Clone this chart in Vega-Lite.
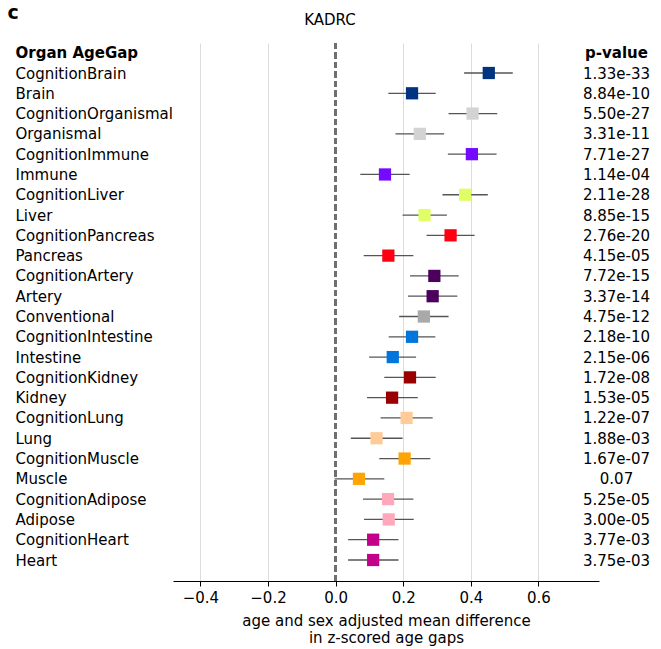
{
  "$schema": "https://vega.github.io/schema/vega-lite/v6.json",
  "width": 426,
  "height": 538,
  "autosize": {"type": "none"},
  "padding": {"left": 173, "top": 43, "right": 62, "bottom": 68},
  "config": {
    "font": "DejaVu Sans",
    "view": {"stroke": null},
    "axis": {"labelColor": "black", "titleColor": "black", "labelFontSize": 15, "titleFontSize": 15}
  },
  "title": {"text": "KADRC", "fontSize": 15, "fontWeight": "normal", "color": "black", "anchor": "middle", "frame": "group", "dx": -56, "offset": -25},
  "data": {
    "values": [
      {"label": "CognitionBrain", "organ": "Brain", "est": 0.453, "lo": 0.380, "hi": 0.524, "p": "1.33e-33"},
      {"label": "Brain", "organ": "Brain", "est": 0.226, "lo": 0.156, "hi": 0.296, "p": "8.84e-10"},
      {"label": "CognitionOrganismal", "organ": "Organismal", "est": 0.405, "lo": 0.334, "hi": 0.478, "p": "5.50e-27"},
      {"label": "Organismal", "organ": "Organismal", "est": 0.249, "lo": 0.177, "hi": 0.321, "p": "3.31e-11"},
      {"label": "CognitionImmune", "organ": "Immune", "est": 0.403, "lo": 0.332, "hi": 0.476, "p": "7.71e-27"},
      {"label": "Immune", "organ": "Immune", "est": 0.146, "lo": 0.073, "hi": 0.219, "p": "1.14e-04"},
      {"label": "CognitionLiver", "organ": "Liver", "est": 0.383, "lo": 0.316, "hi": 0.450, "p": "2.11e-28"},
      {"label": "Liver", "organ": "Liver", "est": 0.263, "lo": 0.198, "hi": 0.329, "p": "8.85e-15"},
      {"label": "CognitionPancreas", "organ": "Pancreas", "est": 0.340, "lo": 0.269, "hi": 0.411, "p": "2.76e-20"},
      {"label": "Pancreas", "organ": "Pancreas", "est": 0.156, "lo": 0.083, "hi": 0.230, "p": "4.15e-05"},
      {"label": "CognitionArtery", "organ": "Artery", "est": 0.292, "lo": 0.220, "hi": 0.364, "p": "7.72e-15"},
      {"label": "Artery", "organ": "Artery", "est": 0.287, "lo": 0.214, "hi": 0.360, "p": "3.37e-14"},
      {"label": "Conventional", "organ": "Conventional", "est": 0.261, "lo": 0.188, "hi": 0.334, "p": "4.75e-12"},
      {"label": "CognitionIntestine", "organ": "Intestine", "est": 0.226, "lo": 0.157, "hi": 0.295, "p": "2.18e-10"},
      {"label": "Intestine", "organ": "Intestine", "est": 0.169, "lo": 0.099, "hi": 0.238, "p": "2.15e-06"},
      {"label": "CognitionKidney", "organ": "Kidney", "est": 0.220, "lo": 0.144, "hi": 0.296, "p": "1.72e-08"},
      {"label": "Kidney", "organ": "Kidney", "est": 0.167, "lo": 0.093, "hi": 0.243, "p": "1.53e-05"},
      {"label": "CognitionLung", "organ": "Lung", "est": 0.210, "lo": 0.133, "hi": 0.287, "p": "1.22e-07"},
      {"label": "Lung", "organ": "Lung", "est": 0.121, "lo": 0.045, "hi": 0.198, "p": "1.88e-03"},
      {"label": "CognitionMuscle", "organ": "Muscle", "est": 0.204, "lo": 0.129, "hi": 0.280, "p": "1.67e-07"},
      {"label": "Muscle", "organ": "Muscle", "est": 0.069, "lo": -0.003, "hi": 0.144, "p": "0.07"},
      {"label": "CognitionAdipose", "organ": "Adipose", "est": 0.155, "lo": 0.081, "hi": 0.230, "p": "5.25e-05"},
      {"label": "Adipose", "organ": "Adipose", "est": 0.157, "lo": 0.084, "hi": 0.231, "p": "3.00e-05"},
      {"label": "CognitionHeart", "organ": "Heart", "est": 0.111, "lo": 0.037, "hi": 0.186, "p": "3.77e-03"},
      {"label": "Heart", "organ": "Heart", "est": 0.111, "lo": 0.037, "hi": 0.186, "p": "3.75e-03"}
    ]
  },
  "resolve": {"scale": {"x": "independent", "y": "independent"}, "axis": {"x": "independent", "y": "independent"}},
  "layer": [
    {
      "mark": {"type": "rule", "color": "#707070", "strokeWidth": 2, "strokeDash": [6, 3.5]},
      "encoding": {
        "x": {"datum": 0, "type": "quantitative", "scale": {"domain": [-0.481, 0.779], "nice": false, "zero": false},
          "axis": {"orient": "top", "labels": false, "ticks": false, "domain": false, "grid": true, "gridColor": "#dcdcdc", "gridWidth": 1, "values": [-0.4, -0.2, 0.2, 0.4, 0.6],
            "title": "c", "titleFontSize": 19, "titleFontWeight": "bold", "titleAlign": "left", "titleBaseline": "middle", "titleX": -166, "titleY": -31, "titleAngle": 0}}
      }
    },
    {
      "layer": [
        {
          "mark": {"type": "rule", "color": "#555555", "strokeWidth": 1.3},
          "encoding": {
            "y": {"field": "label", "type": "nominal", "sort": null, "scale": {"type": "point", "padding": 0, "range": [30, 517]}},
            "x": {"field": "lo", "type": "quantitative"},
            "x2": {"field": "hi"}
          }
        },
        {
          "mark": {"type": "point", "shape": "square", "filled": true, "size": 150, "opacity": 1},
          "encoding": {
            "y": {"field": "label", "type": "nominal", "sort": null},
            "x": {"field": "est", "type": "quantitative"},
            "color": {"field": "organ", "type": "nominal", "legend": null,
              "scale": {"domain": ["Brain", "Organismal", "Immune", "Liver", "Pancreas", "Artery", "Conventional", "Intestine", "Kidney", "Lung", "Muscle", "Adipose", "Heart"],
                "range": ["#003380", "#d3d3d3", "#740aff", "#e0ff66", "#ff0010", "#4c005c", "#a9a9a9", "#0075dc", "#990000", "#ffcc99", "#ffa405", "#ffa8bb", "#c20088"]}}
          }
        }
      ],
      "encoding": {
        "x": {"scale": {"domain": [-0.481, 0.779], "nice": false, "zero": false},
          "axis": {"orient": "bottom", "values": [-0.4, -0.2, 0, 0.2, 0.4, 0.6], "format": ".1f", "grid": false,
            "domainColor": "black", "domainWidth": 1, "tickColor": "black", "tickSize": 5, "labelPadding": 4,
            "title": ["age and sex adjusted mean difference", "in z-scored age gaps"], "titleFontWeight": "normal", "titlePadding": 8, "titleLineHeight": 17}},
        "y": {"axis": {"orient": "left", "title": "Organ AgeGap", "titleAngle": 0, "titleAlign": "left", "titleBaseline": "middle", "titleX": -158, "titleY": 9, "titleFontWeight": "bold",
          "labelAlign": "left", "labelBaseline": "middle", "labelPadding": 158, "labelLimit": 300, "ticks": false, "tickSize": 0, "domain": false, "grid": false}}
      }
    },
    {
      "mark": {"type": "point", "opacity": 0},
      "encoding": {
        "y": {"field": "p", "type": "nominal", "sort": null, "scale": {"type": "point", "padding": 0, "range": [30, 517]},
          "axis": {"orient": "right", "title": "p-value", "titleAngle": 0, "titleAlign": "center", "titleBaseline": "middle", "titleX": 17, "titleY": 9, "titleFontWeight": "bold",
            "labelAlign": "center", "labelBaseline": "middle", "labelPadding": 17, "labelLimit": 300, "ticks": false, "tickSize": 0, "domain": false, "grid": false}}
      }
    }
  ]
}
